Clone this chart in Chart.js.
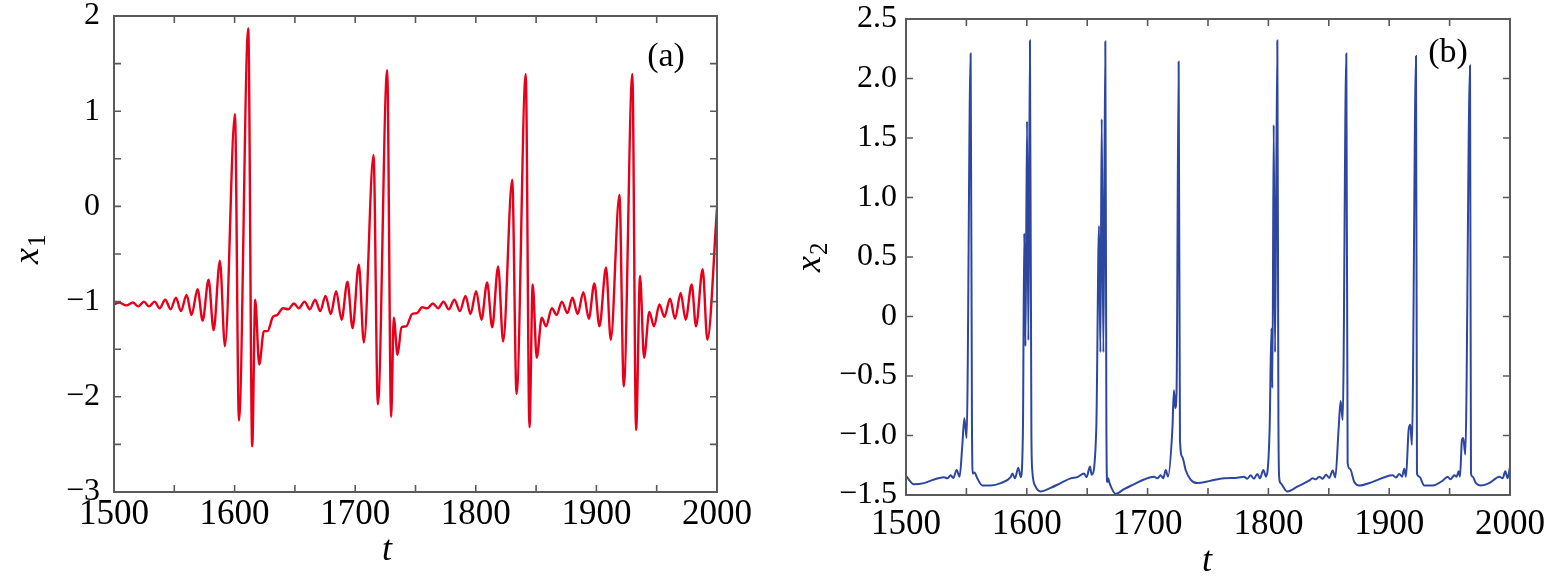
<!DOCTYPE html>
<html>
<head>
<meta charset="utf-8">
<script src="https://cdn.jsdelivr.net/npm/chart.js@4.4.1/dist/chart.umd.min.js"></script>
<style>
  html, body { margin: 0; padding: 0; background: #fff; }
  #wrap { position: relative; width: 1546px; height: 577px; overflow: hidden; }
  .panel { position: absolute; top: 0; }
  #panelA { left: 0; width: 760px; height: 577px; }
  #panelB { left: 760px; width: 786px; height: 577px; }
</style>
</head>
<body>
<div id="wrap">
  <div class="panel" id="panelA"><canvas id="chartA" width="760" height="577"></canvas></div>
  <div class="panel" id="panelB"><canvas id="chartB" width="786" height="577"></canvas></div>
</div>
<script>
// panel (a): x1 against t at the turning points
const tA = [
  1500, 1504.1, 1510.2, 1515.7, 1520.1, 1524.8, 1529.0, 1533.7, 1537.8, 1542.5,
  1546.9, 1551.4, 1555.5, 1560.2, 1564.3, 1569.3, 1573.5, 1578.4, 1582.6, 1587.8,
  1592.0, 1600.3, 1603.6, 1611.3, 1614.6, 1617.1, 1620.4, 1624.3, 1627.3, 1631.8,
  1635.4, 1640.1, 1644.5, 1649.2, 1653.3, 1658.0, 1662.4, 1666.8, 1671.0, 1675.4,
  1679.8, 1684.2, 1688.7, 1693.6, 1697.8, 1703.0, 1707.2, 1715.2, 1718.8, 1726.5,
  1729.8, 1732.0, 1735.1, 1738.4, 1742.3, 1747.2, 1751.4, 1755.5, 1759.7, 1764.4,
  1768.8, 1773.2, 1777.6, 1782.3, 1786.8, 1791.5, 1795.6, 1800.3, 1804.7, 1809.4,
  1813.6, 1818.5, 1822.7, 1830.2, 1833.8, 1841.4, 1844.5, 1847.2, 1850.5, 1854.7,
  1858.3, 1863.0, 1867.1, 1871.3, 1876.0, 1880.1, 1884.5, 1889.2, 1893.7, 1898.3,
  1902.5, 1908.0, 1911.9, 1919.1, 1922.7, 1929.8, 1932.9, 1936.2, 1939.5, 1943.9,
  1947.8, 1952.2, 1956.4, 1961.1, 1965.2, 1969.9, 1974.0, 1979.0, 1982.6, 1988.1,
  1992.0, 2000
];
const x1 = [
  -1.03, -1.01, -1.04, -1.01, -1.05, -1.00, -1.05, -1.00, -1.07, -0.98,
  -1.08, -0.96, -1.10, -0.93, -1.14, -0.87, -1.20, -0.77, -1.30, -0.57,
  -1.47, 0.97, -2.25, 1.87, -2.52, -0.98, -1.66, -1.31, -1.31, -1.16,
  -1.14, -1.07, -1.08, -1.02, -1.07, -1.00, -1.08, -0.98, -1.10, -0.94,
  -1.13, -0.89, -1.19, -0.79, -1.28, -0.61, -1.43, 0.54, -2.08, 1.43,
  -2.21, -1.17, -1.56, -1.27, -1.26, -1.13, -1.12, -1.06, -1.07, -1.02,
  -1.07, -1.00, -1.08, -0.98, -1.10, -0.94, -1.13, -0.89, -1.19, -0.80,
  -1.27, -0.63, -1.42, 0.28, -1.97, 1.39, -2.32, -0.82, -1.59, -1.17,
  -1.26, -1.07, -1.14, -1.00, -1.12, -0.96, -1.13, -0.90, -1.18, -0.81,
  -1.26, -0.64, -1.40, 0.12, -1.89, 1.39, -2.35, -0.73, -1.59, -1.11,
  -1.26, -1.03, -1.16, -0.97, -1.18, -0.91, -1.19, -0.82, -1.26, -0.66,
  -1.40, -0.02
];

// panel (b): x2 against t
const tB = [
  1500, 1506.6, 1514.9, 1523.2, 1531.4, 1534.2, 1537.0, 1539.2, 1541.9, 1544.4,
  1546.5, 1548.3, 1550.2, 1553.5, 1554.6, 1555.2, 1556.7, 1559.0, 1563.2, 1570.0,
  1578.4, 1586.6, 1588.0, 1590.2, 1593.0, 1595.0, 1596.8, 1597.9, 1598.9, 1600.2,
  1601.3, 1602.6, 1603.8, 1604.6, 1607.3, 1611.5, 1619.7, 1628.0, 1636.3, 1641.8,
  1647.3, 1649.5, 1652.3, 1653.7, 1657.5, 1659.8, 1660.9, 1662.0, 1663.4, 1665.0,
  1665.9, 1666.6, 1667.4, 1668.5, 1673.6, 1680.5, 1688.7, 1697.0, 1705.3, 1708.0,
  1710.8, 1713.0, 1715.0, 1716.9, 1720.5, 1721.8, 1722.9, 1724.0, 1725.7, 1726.8,
  1728.7, 1731.5, 1735.6, 1741.2, 1752.2, 1763.2, 1774.3, 1779.8, 1782.5, 1785.3,
  1788.0, 1790.8, 1793.0, 1795.8, 1798.0, 1801.0, 1802.5, 1803.3, 1804.4, 1805.5,
  1807.4, 1808.3, 1809.0, 1810.1, 1815.6, 1823.9, 1833.6, 1836.6, 1839.4, 1842.1,
  1844.9, 1847.7, 1850.4, 1853.2, 1855.4, 1858.1, 1859.8, 1861.5, 1864.5, 1865.6,
  1867.5, 1871.1, 1875.2, 1886.3, 1897.3, 1902.8, 1905.6, 1908.4, 1910.6, 1912.5,
  1913.9, 1916.1, 1917.5, 1918.8, 1922.2, 1923.0, 1924.9, 1929.0, 1935.9, 1944.2,
  1948.4, 1950.6, 1953.9, 1955.8, 1957.5, 1958.6, 1960.2, 1961.3, 1963.0, 1966.9,
  1967.7, 1969.0, 1971.8, 1975.9, 1982.8, 1988.4, 1991.1, 1993.9, 1996.1, 1998.0,
  2000
];
const x2 = [
  -1.34, -1.41, -1.40, -1.37, -1.35, -1.36, -1.335, -1.357, -1.29, -1.346,
  -1.10, -0.855, -1.02, 2.21, -0.90, -1.32, -1.31, -1.36, -1.42, -1.42,
  -1.40, -1.35, -1.32, -1.36, -1.27, -1.35, -0.95, 0.70, -0.25, 1.64,
  -0.20, 2.32, -0.98, -1.30, -1.43, -1.47, -1.44, -1.40, -1.36, -1.35,
  -1.32, -1.35, -1.26, -1.33, -0.95, 0.76, -0.30, 1.66, -0.30, 2.31,
  -0.95, -1.39, -1.36, -1.40, -1.49, -1.45, -1.41, -1.37, -1.346, -1.36,
  -1.335, -1.36, -1.29, -1.346, -0.95, -0.62, -0.77, -0.62, 2.14, -1.04,
  -1.18, -1.29, -1.37, -1.40, -1.38, -1.36, -1.355, -1.346, -1.363, -1.335,
  -1.363, -1.323, -1.36, -1.29, -1.346, -0.95, -0.10, -0.60, 1.61, -0.30,
  2.32, -0.90, -1.36, -1.40, -1.47, -1.43, -1.38, -1.36, -1.368, -1.346,
  -1.363, -1.329, -1.357, -1.295, -1.352, -0.95, -0.71, -0.87, 2.21, -1.23,
  -1.28, -1.39, -1.42, -1.39, -1.346, -1.335, -1.352, -1.323, -1.346, -1.28,
  -1.346, -0.95, -0.91, -1.08, 2.19, -1.32, -1.346, -1.42, -1.42, -1.38,
  -1.346, -1.368, -1.335, -1.346, -1.30, -1.346, -1.04, -1.02, -1.16, 2.11,
  -1.318, -1.346, -1.40, -1.42, -1.40, -1.36, -1.346, -1.36, -1.30, -1.36,
  -1.26
];

const xTicksA = [1500, 1600, 1700, 1800, 1900, 2000];
const yTicksA = [-3, -2, -1, 0, 1, 2];
const yTicksB = [-1.5, -1.0, -0.5, 0, 0.5, 1.0, 1.5, 2.0, 2.5];

const SERIF = '"Liberation Serif", "DejaVu Serif", serif';
const FRAME = '#5a5a5a';
const TICK_LEN = 7;

function minus(s) {
    return s.replace('-', '\u2212');
}

// box round the plot plus inward ticks on all four sides, MATLAB style
const frameTicks = {
    id: 'frameTicks',
    afterDatasetsDraw(chart, args, opts) {
        const { ctx, chartArea: a, scales: { x, y } } = chart;
        ctx.save();
        ctx.strokeStyle = FRAME;
        ctx.lineWidth = 1.6;
        ctx.beginPath();
        const nx = Math.round((x.max - x.min) / opts.xStep);
        for (let i = 1; i < nx; i++) {
            const px = x.getPixelForValue(x.min + i * opts.xStep);
            ctx.moveTo(px, a.bottom); ctx.lineTo(px, a.bottom - TICK_LEN);
            ctx.moveTo(px, a.top); ctx.lineTo(px, a.top + TICK_LEN);
        }
        const ny = Math.round((y.max - y.min) / opts.yStep);
        for (let i = 1; i < ny; i++) {
            const py = y.getPixelForValue(y.min + i * opts.yStep);
            ctx.moveTo(a.left, py); ctx.lineTo(a.left + TICK_LEN, py);
            ctx.moveTo(a.right, py); ctx.lineTo(a.right - TICK_LEN, py);
        }
        ctx.stroke();
        ctx.lineWidth = 2;
        ctx.strokeRect(a.left, a.top, a.width, a.height);

        // axis names and panel tag
        ctx.fillStyle = '#000';
        ctx.textAlign = 'center';
        ctx.textBaseline = 'alphabetic';
        ctx.font = 'italic 36px ' + SERIF;
        ctx.fillText('t', opts.tPos[0], opts.tPos[1]);

        ctx.save();
        ctx.translate(opts.yName[0], opts.yName[1]);
        ctx.rotate(-Math.PI / 2);
        ctx.textAlign = 'left';
        ctx.font = 'italic 36px ' + SERIF;
        const w = ctx.measureText('x').width;
        ctx.fillText('x', -w / 2 - 6, 8);
        ctx.font = '25px ' + SERIF;
        ctx.fillText(opts.sub, w / 2 - 5, 15);
        ctx.restore();

        ctx.font = '34px ' + SERIF;
        ctx.textAlign = 'center';
        ctx.fillText(opts.tag, opts.tagPos[0], opts.tagPos[1]);
        ctx.restore();
    }
};

// keep the plot box exactly where the layout padding and fixed axis sizes put it
function noScalePadding(s) {
    s.paddingTop = 0;
    s.paddingBottom = 0;
    s.paddingLeft = 0;
    s.paddingRight = 0;
}

function makeChart(id, t, vals, cfg) {
    const ctx = document.getElementById(id).getContext('2d');
    return new Chart(ctx, {
        type: 'line',
        data: {
            datasets: [{
                data: t.map((v, i) => ({ x: v, y: vals[i] })),
                borderColor: cfg.color,
                borderWidth: cfg.lineWidth,
                pointRadius: 0,
                fill: false,
                cubicInterpolationMode: 'monotone',
            }]
        },
        options: {
            responsive: false,
            animation: false,
            devicePixelRatio: 1,
            events: [],
            layout: { padding: cfg.padding },
            plugins: {
                legend: { display: false },
                tooltip: { enabled: false },
                frameTicks: cfg.frame,
            },
            scales: {
                x: {
                    type: 'linear',
                    min: 1500,
                    max: 2000,
                    afterBuildTicks(s) { s.ticks = xTicksA.map(v => ({ value: v })); },
                    ticks: {
                        color: '#000',
                        font: { family: SERIF, size: 35 },
                        padding: cfg.xPad,
                        maxRotation: 0,
                        autoSkip: false,
                        callback: v => String(v),
                    },
                    grid: { display: false, drawTicks: false },
                    border: { display: false },
                    afterFit(s) { s.height = cfg.xHeight; noScalePadding(s); },
                },
                y: {
                    min: cfg.yMin,
                    max: cfg.yMax,
                    afterBuildTicks(s) { s.ticks = cfg.yTicks.map(v => ({ value: v })); },
                    ticks: {
                        color: '#000',
                        font: { family: SERIF, size: 32 },
                        padding: cfg.yPad,
                        autoSkip: false,
                        callback: cfg.yFormat,
                    },
                    grid: { display: false, drawTicks: false },
                    border: { display: false },
                    afterFit(s) { s.width = cfg.yWidth; noScalePadding(s); },
                }
            }
        },
        plugins: [frameTicks]
    });
}

makeChart('chartA', tA, x1, {
    color: '#e8001a',
    lineWidth: 2.4,
    padding: { top: 16, right: 43, left: 0, bottom: 0 },
    xHeight: 85,
    yWidth: 114,
    xPad: 2,
    yPad: 14,
    yMin: -3,
    yMax: 2,
    yTicks: yTicksA,
    yFormat: v => minus(String(v)),
    frame: { xStep: 50, yStep: 0.5, tPos: [387, 560], yName: [30, 250], sub: '1', tag: '(a)', tagPos: [666, 66] },
});

makeChart('chartB', tB, x2, {
    color: '#2d47a0',
    lineWidth: 2,
    padding: { top: 19, right: 36, left: 0, bottom: 0 },
    xHeight: 82,
    yWidth: 146,
    xPad: 9,
    yPad: 9,
    yMin: -1.5,
    yMax: 2.5,
    yTicks: yTicksB,
    yFormat: v => (v === 0 ? '0' : minus(v.toFixed(1))),
    frame: { xStep: 50, yStep: 0.5, tPos: [447, 571], yName: [52, 258], sub: '2', tag: '(b)', tagPos: [688, 62] },
});
</script>
</body>
</html>
